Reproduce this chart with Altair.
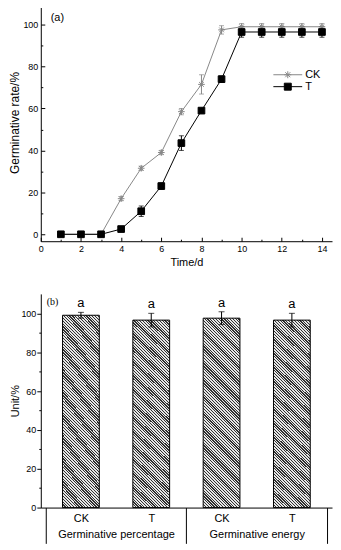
import json
import altair as alt
import pandas as pd

# ---------------- data ----------------
days = list(range(1, 15))
ck_mean = [0, 0, 0, 17, 31.5, 39, 58.5, 71.5, 97.5, 99, 99, 99, 99, 99]
ck_err = [0, 0, 0, 1, 1, 1, 1.5, 4.6, 2, 1.5, 1.5, 1.5, 1.5, 1.5]
t_mean = [0, 0, 0, 2.5, 11, 23, 43.5, 59, 74, 96.5, 96.5, 96.5, 96.5, 96.5]
t_err = [0, 0, 0, 0.5, 2.5, 1.5, 3.5, 1, 1.5, 2.5, 2.5, 2.5, 2.5, 2.5]
series_names = ["CK", "T"]
series_colors = ["#878787", "#000000"]

x_major = list(range(0, 15, 2))
x_minor = list(range(1, 14, 2))
y_major = list(range(0, 101, 20))
y_minor = list(range(10, 100, 20))

treatments = ["CK", "T", "CK", "T"]
groups = ["Germinative percentage", "Germinative energy"]
bar_mean = [99.0, 96.5, 97.5, 96.5]
bar_err = [1.5, 3.5, 3.3, 3.5]
letters = ["a", "a", "a", "a"]
panel_labels = ["(a)", "(b)"]

# ---------------- layout / style ----------------
W = 293
H1 = 239
H2 = 215
FONT = "Liberation Sans"
BAR_W = 37

rows = []
for name, means, errs in ((series_names[0], ck_mean, ck_err), (series_names[1], t_mean, t_err)):
    for d, m, e in zip(days, means, errs):
        rows.append({"series": name, "day": d, "mean": m, "lo": m - e, "hi": m + e})
top_df = pd.DataFrame(rows)

bar_df = pd.DataFrame({
    "pos": [i + 0.5 for i in range(len(treatments))],
    "treatment": treatments,
    "mean": bar_mean,
    "lo": [m - e for m, e in zip(bar_mean, bar_err)],
    "hi": [m + e for m, e in zip(bar_mean, bar_err)],
    "letter": letters,
})

# ---------------- top panel ----------------
xs = alt.Scale(domain=[0, 14.5], nice=False, zero=False)
ys = alt.Scale(domain=[-3.3, 110], nice=False, zero=False)


def cscale():
    return alt.Scale(domain=series_names, range=series_colors)


ast = "M-1,0L1,0M0,-1L0,1M-0.7,-0.7L0.7,0.7M-0.7,0.7L0.7,-0.7"
leg_ck = "M-2.9,0L2.9,0M-0.7,0L0.7,0M0,-0.7L0,0.7M-0.5,-0.5L0.5,0.5M-0.5,0.5L0.5,-0.5"
leg_t = "M-2.9,0L2.9,0M-0.7,-0.7L0.7,-0.7L0.7,0.7L-0.7,0.7Z"
legend = alt.Legend(
    orient="none", legendX=243, legendY=66, title=None,
    labelFontSize=11, labelFont=FONT, symbolSize=100, symbolStrokeWidth=1,
    labelOffset=12, rowPadding=0, padding=0, labelColor="black",
)

base = alt.Chart(top_df)
line = base.mark_line(strokeWidth=1).encode(
    x=alt.X("day:Q", scale=xs, axis=alt.Axis(orient="bottom", values=x_major, ticks=False,
                                             title="Time/d", labelFontSize=9, titleFontSize=11,
                                             titleFontWeight="normal",
                                             labelPadding=3, titlePadding=3, labelFlush=False)),
    y=alt.Y("mean:Q", scale=ys, axis=alt.Axis(orient="left", values=y_major, ticks=False,
                                              title="Germinative rate/%", labelFontSize=9,
                                              titleFontSize=12, titleFontWeight="normal",
                                              labelPadding=3, titlePadding=1, labelFlush=False)),
    color=alt.Color("series:N", scale=cscale(), legend=None),
)
err = base.mark_errorbar(ticks=True, size=5, thickness=1).encode(
    x=alt.X("day:Q", scale=xs, axis=alt.Axis(orient="top", offset=-H1, values=x_major, tickSize=4,
                                             labels=False, domain=False, title=None)),
    y=alt.Y("lo:Q", scale=ys, axis=alt.Axis(orient="right", offset=-W, values=y_major, tickSize=4,
                                            labels=False, domain=False, title=None)),
    y2="hi:Q",
    color=alt.Color("series:N", scale=cscale(), legend=None),
)
pts = base.mark_point(filled=True, size=45, opacity=1, strokeWidth=1).encode(
    x=alt.X("day:Q", scale=xs, axis=alt.Axis(orient="top", offset=-H1, values=x_minor, tickSize=2,
                                             labels=False, domain=False, title=None)),
    y=alt.Y("mean:Q", scale=ys, axis=alt.Axis(orient="right", offset=-W, values=y_minor, tickSize=2,
                                              labels=False, domain=False, title=None)),
    color=alt.Color("series:N", scale=cscale(), legend=None),
    stroke=alt.Stroke("series:N", scale=cscale(), legend=None),
    shape=alt.Shape("series:N", scale=alt.Scale(domain=series_names, range=[ast, "square"]), legend=None),
)
# legend-only layer (no marks drawn; scales have explicit domains)
leg = base.transform_filter("false").mark_point(filled=True, size=100, opacity=1, strokeWidth=1).encode(
    x=alt.X("day:Q", scale=xs, axis=None),
    y=alt.Y("mean:Q", scale=ys, axis=None),
    color=alt.Color("series:N", scale=cscale(), legend=legend),
    stroke=alt.Stroke("series:N", scale=cscale(), legend=legend),
    shape=alt.Shape("series:N", scale=alt.Scale(domain=series_names, range=[leg_ck, leg_t]), legend=legend),
)
label_a = alt.Chart(pd.DataFrame({"label": [panel_labels[0]]})).mark_text(
    align="left", baseline="alphabetic", fontSize=11, font=FONT, color="black"
).encode(x=alt.value(10), y=alt.value(17), text="label:N")

top = alt.layer(line, err, pts, leg, label_a).resolve_axis(x="independent", y="independent").resolve_scale(
    color="independent", stroke="independent", shape="independent"
).properties(width=W, height=H1)

# ---------------- bottom panel ----------------
H_BAR = 97.5 / 110 * H2
r = H_BAR / BAR_W
t = (1 + r) / (1 + r * r)
n_stripes = 80
dark, light = "#303030", "#e6e6e6"
stops = []
for i in range(n_stripes):
    a = i / n_stripes
    b = (i + 0.45) / n_stripes
    c = (i + 1) / n_stripes
    stops += [alt.GradientStop(offset=a, color=dark), alt.GradientStop(offset=b, color=dark),
              alt.GradientStop(offset=b, color=light), alt.GradientStop(offset=c, color=light)]
hatch = alt.LinearGradient(gradient="linear", stops=stops, x1=0, y1=1, x2=t, y2=1 - t * r)

xb = alt.Scale(domain=[0, len(treatments)], nice=False, zero=False)
yb = alt.Scale(domain=[0, 110], nice=False)

centers = [i + 0.5 for i in range(len(treatments))]
per_group = len(treatments) // len(groups)
sep_vals = [i * per_group for i in range(len(groups) + 1)]
group_centers = [i * per_group + per_group / 2 for i in range(len(groups))]
treat_expr = json.dumps(treatments) + "[floor(datum.value)]"
group_expr = json.dumps(groups) + f"[floor(datum.value / {per_group})]"

bbase = alt.Chart(bar_df)
bars = bbase.mark_bar(size=BAR_W, orient="vertical", fill=hatch, stroke="black", strokeWidth=1).encode(
    x=alt.X("pos:Q", scale=xb, axis=alt.Axis(orient="bottom", values=centers, labelExpr=treat_expr,
                                             ticks=False, labelPadding=5, labelFontSize=11,
                                             title=None, labelFlush=False)),
    y=alt.Y("mean:Q", scale=yb, axis=alt.Axis(orient="left", values=y_major, tickSize=4,
                                              labelFontSize=9, labelPadding=1, title="Unit/%",
                                              titleFontSize=11, titleFontWeight="normal",
                                              titlePadding=0)),
)
berr = bbase.mark_errorbar(ticks=True, size=6, thickness=1, color="black").encode(
    x=alt.X("pos:Q", scale=xb, axis=alt.Axis(orient="bottom", values=sep_vals, tickSize=36,
                                             labels=False, domain=False, title=None)),
    y=alt.Y("lo:Q", scale=yb, axis=alt.Axis(orient="left", values=y_minor, tickSize=2,
                                            labels=False, domain=False, title=None)),
    y2="hi:Q",
)
btext = bbase.mark_text(baseline="bottom", dy=-2, fontSize=13, font=FONT).encode(
    x=alt.X("pos:Q", scale=xb, axis=alt.Axis(orient="bottom", values=group_centers, labelExpr=group_expr,
                                             ticks=False, domain=False, labelPadding=21,
                                             labelFontSize=11, title=None, labelFlush=False)),
    y=alt.Y("hi:Q", scale=yb, axis=None),
    text="letter:N",
)
label_b = alt.Chart(pd.DataFrame({"label": [panel_labels[1]]})).mark_text(
    align="left", baseline="alphabetic", fontSize=10, font="Liberation Serif", color="black"
).encode(x=alt.value(6), y=alt.value(11), text="label:N")

bottom = alt.layer(bars, berr, btext, label_b).resolve_axis(x="independent", y="independent").properties(
    width=W, height=H2,
)

chart = alt.vconcat(top, bottom, spacing=25).properties(
    padding={"left": 0, "top": -7, "right": 0, "bottom": 0}
).configure(font=FONT).configure_axis(
    grid=False, domainColor="black", tickColor="black", labelColor="black",
    titleColor="black", titleFontWeight="normal", labelFont=FONT, titleFont=FONT,
).configure_view(stroke="transparent")

chart.save("out.html", embed_options={"renderer": "svg", "actions": False})
